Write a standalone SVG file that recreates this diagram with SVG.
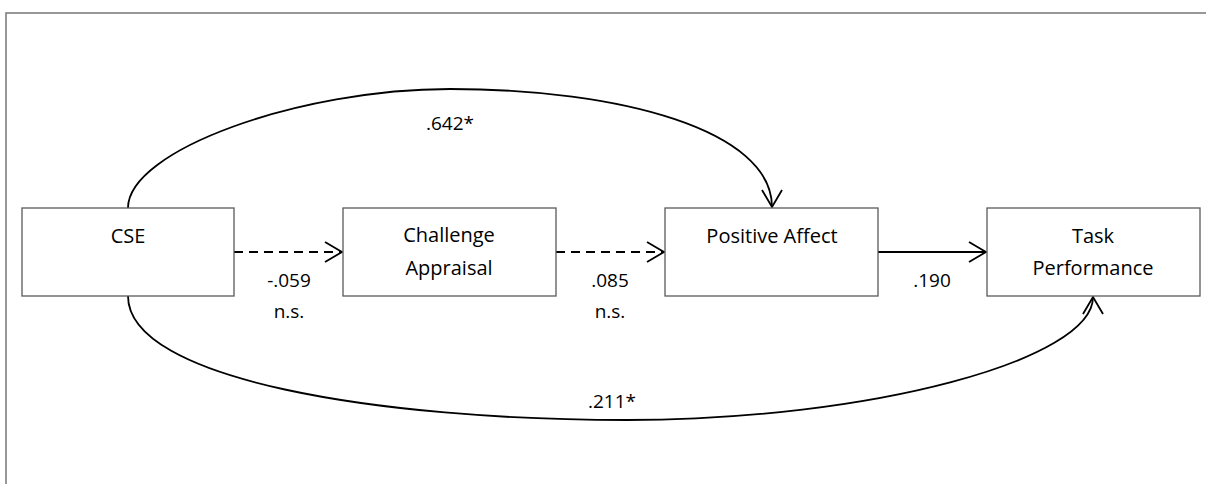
<svg xmlns="http://www.w3.org/2000/svg" width="1206" height="484" viewBox="0 0 1206 484">
<defs>
<style>
.frame{fill:none;stroke:#7f7f7f;stroke-width:1.6}
.box{fill:#fff;stroke:#5a5a5a;stroke-width:1.3}
.lbl{font-family:"Open Sans","Noto Sans",sans-serif;font-size:20px;fill:#000;text-anchor:middle}
.num{font-family:"Open Sans","Noto Sans",sans-serif;font-size:19px;fill:#000;text-anchor:middle}
.conn{fill:none;stroke:#000;stroke-width:1.8}
.dash{stroke-dasharray:9 6}
</style>
<marker id="arr" markerUnits="userSpaceOnUse" markerWidth="22" markerHeight="24" viewBox="0 0 22 24" refX="19" refY="12" orient="auto">
<path d="M2,2 L19,12 L2,22" fill="none" stroke="#000" stroke-width="1.8"/>
</marker>
</defs>
<rect width="1206" height="484" fill="#fff"/>
<rect class="frame" x="6" y="13" width="1210" height="480"/>
<g id="connectors">
<path class="conn" d="M128,208 C128,150 300,89 450,89 C620,89 772,130 772,207" marker-end="url(#arr)"/>
<path class="conn" d="M128,296 C128,380 380,420 627,420 C870,420 1093,360 1093,297" marker-end="url(#arr)"/>
<path class="conn dash" d="M234,252 L342,252" marker-end="url(#arr)"/>
<path class="conn dash" d="M556,252 L664,252" marker-end="url(#arr)"/>
<path class="conn" d="M878,252 L986,252" marker-end="url(#arr)"/>
<text class="num" x="450" y="130">.642*</text>
<text class="num" x="289" y="287">-.059</text>
<text class="num" x="289" y="318">n.s.</text>
<text class="num" x="610" y="287">.085</text>
<text class="num" x="610" y="318">n.s.</text>
<text class="num" x="932" y="287">.190</text>
<text class="num" x="612" y="408">.211*</text>
</g>
<g id="cse">
<rect class="box" x="22" y="208" width="212" height="88"/>
<text class="lbl" x="128" y="243">CSE</text>
</g>
<g id="challenge">
<rect class="box" x="343" y="208" width="213" height="88"/>
<text class="lbl" x="449" y="242">Challenge</text>
<text class="lbl" x="449" y="275">Appraisal</text>
</g>
<g id="positive">
<rect class="box" x="665" y="208" width="213" height="88"/>
<text class="lbl" x="772" y="243">Positive Affect</text>
</g>
<g id="task">
<rect class="box" x="987" y="208" width="213" height="88"/>
<text class="lbl" x="1093" y="243">Task</text>
<text class="lbl" x="1093" y="275">Performance</text>
</g>
</svg>
